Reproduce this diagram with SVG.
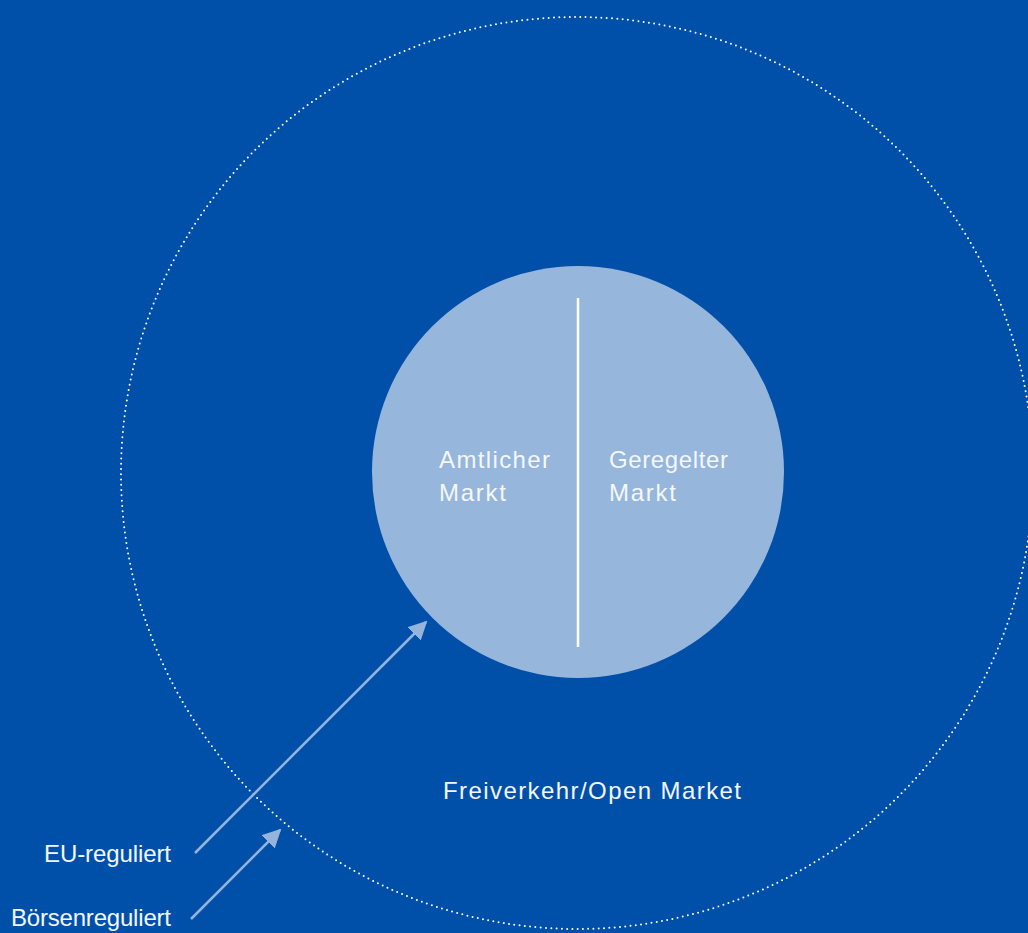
<svg xmlns="http://www.w3.org/2000/svg" width="1028" height="933" viewBox="0 0 1028 933">
<defs>
<style>
.lbl{font-family:"Liberation Sans",Arial,sans-serif;font-size:24px;fill:#f4f7fc}
.conn{stroke:#94b4dc;stroke-width:2.5;fill:none}
</style>
<marker id="ah" viewBox="0 0 10 10" refX="9" refY="5" markerWidth="7.5" markerHeight="7.5" orient="auto" markerUnits="strokeWidth">
<path d="M0,0 L10,5 L0,10 Z" fill="#94b4dc"/>
</marker>
</defs>
<rect width="1028" height="933" fill="#0050aa"/>
<g id="open-market">
<circle cx="577" cy="473" r="456" fill="none" stroke="#ffffff" stroke-width="2" stroke-linecap="round" stroke-dasharray="0 5.3"/>
<text class="lbl" x="443" y="799" textLength="298" lengthAdjust="spacing">Freiverkehr/Open Market</text>
</g>
<g id="inner">
<circle cx="578" cy="472" r="206" fill="#96b6dc"/>
<line x1="578" y1="298" x2="578" y2="647" stroke="#ffffff" stroke-width="2.5"/>
</g>
<g id="amtlicher">
<text class="lbl" x="439" y="468" textLength="111" lengthAdjust="spacing">Amtlicher</text>
<text class="lbl" x="439" y="501" textLength="67" lengthAdjust="spacing">Markt</text>
</g>
<g id="geregelter">
<text class="lbl" x="609" y="468" textLength="119" lengthAdjust="spacing">Geregelter</text>
<text class="lbl" x="609" y="501" textLength="67" lengthAdjust="spacing">Markt</text>
</g>
<g id="eu">
<text class="lbl" x="44" y="862" textLength="127" lengthAdjust="spacing">EU-reguliert</text>
</g>
<g id="boerse">
<text class="lbl" x="11" y="926" textLength="160" lengthAdjust="spacing">Börsenreguliert</text>
</g>
<g id="connectors">
<line class="conn" x1="195" y1="853" x2="426" y2="622" marker-end="url(#ah)"/>
<line class="conn" x1="191" y1="919" x2="280" y2="830" marker-end="url(#ah)"/>
</g>
</svg>
